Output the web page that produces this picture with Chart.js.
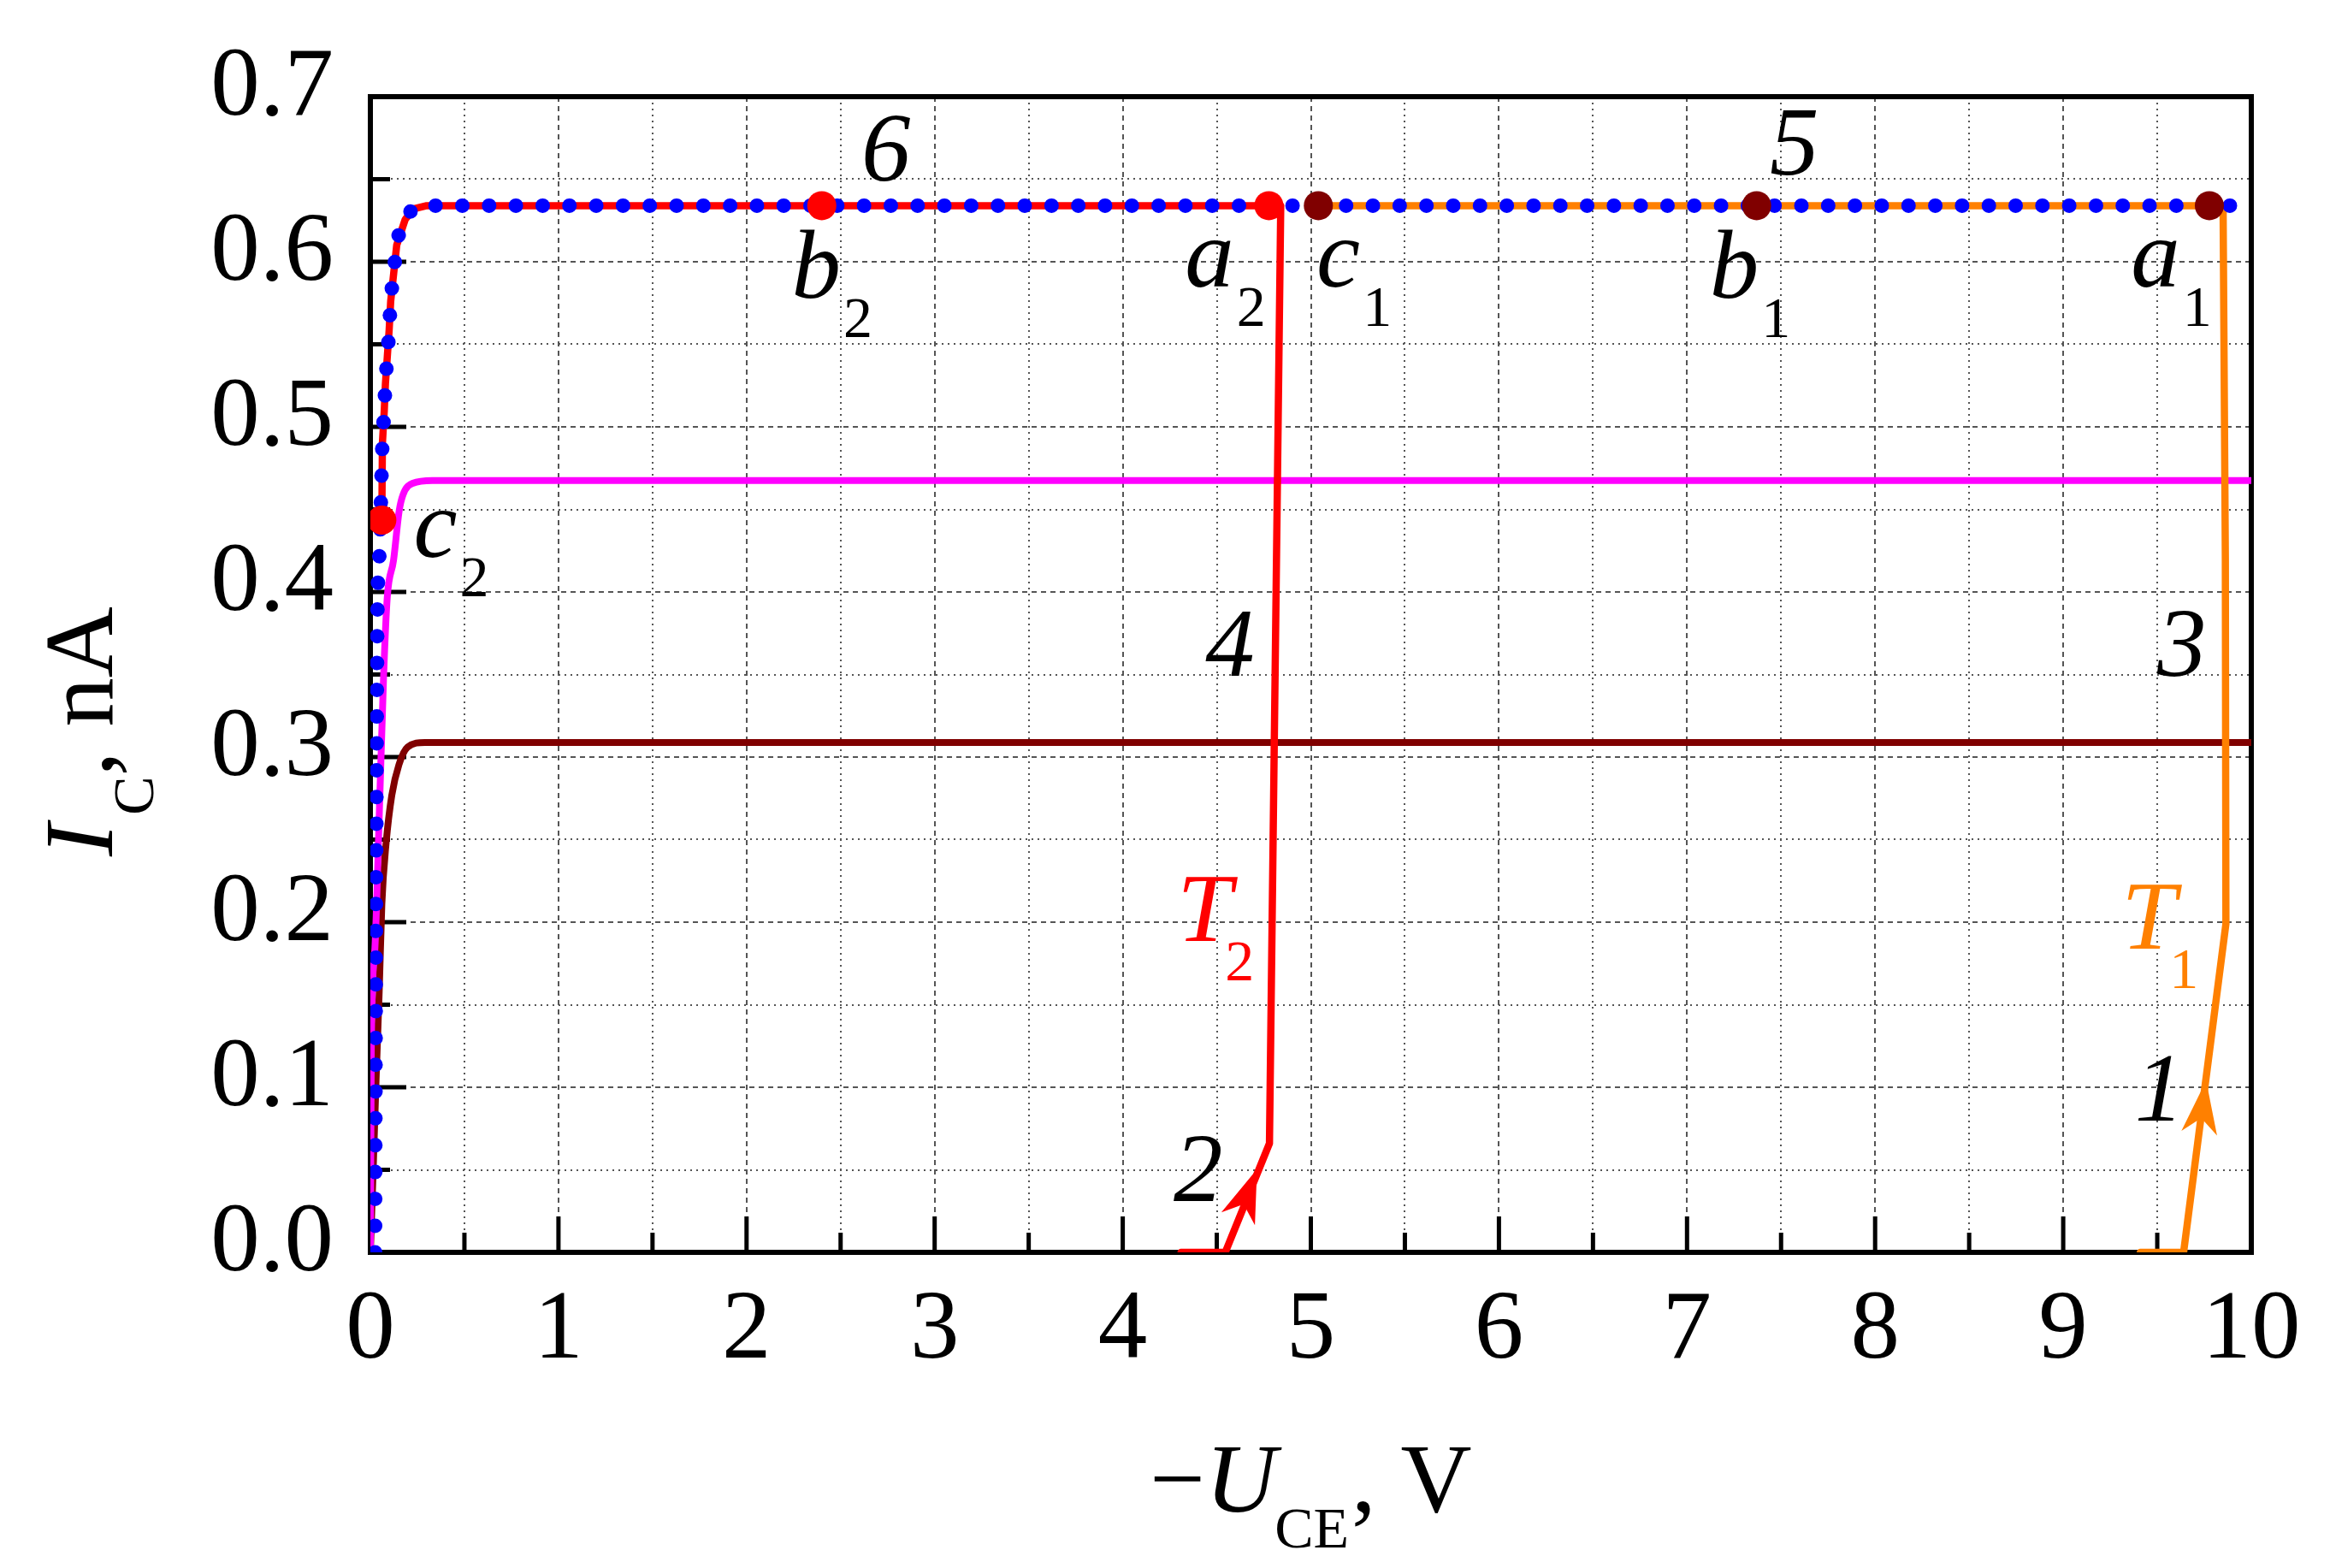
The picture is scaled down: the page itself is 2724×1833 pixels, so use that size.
<!DOCTYPE html>
<html lang="en">
<head>
<meta charset="UTF-8">
<title>Collector current vs collector-emitter voltage</title>
<script src="https://cdn.jsdelivr.net/npm/chart.js"></script>
<style>
  html, body { margin: 0; padding: 0; background: #fff; }
  canvas { display: block; }
</style>
</head>
<body>
<canvas id="chart" width="2724" height="1833"></canvas>
<script>
// ---- data (V on x, nA on y) ----
// curve 6, blue dotted
const blueV = [0.025, 0.03, 0.038, 0.05, 0.057, 0.064, 0.074, 0.08, 0.09, 0.10, 0.108, 0.124, 0.14, 0.185, 0.23, 0.30, 10];
const blueI = [0.0, 0.20, 0.39, 0.426, 0.46, 0.49, 0.51, 0.526, 0.5425, 0.559, 0.576, 0.593, 0.61, 0.6256, 0.632, 0.634, 0.634];
// trajectory T2 (red)
const t2V = [4.31, 4.545, 4.78, 4.84, 0.30, 0.23, 0.185, 0.14, 0.124, 0.108, 0.10, 0.09, 0.08, 0.074, 0.064, 0.061];
const t2I = [0.0, 0.0, 0.066, 0.634, 0.634, 0.632, 0.6256, 0.61, 0.593, 0.576, 0.559, 0.5425, 0.526, 0.51, 0.49, 0.4435];
// trajectory T1 (orange)
const t1V = [9.41, 9.64, 9.865, 9.862, 9.85, 5.04];
const t1I = [0.0, 0.0, 0.199, 0.42, 0.634, 0.634];
// curve 4 (magenta)
const magV = [0, 0.005, 0.024, 0.047, 0.07, 0.09, 0.123, 0.153, 0.174, 0.225, 0.33, 10];
const magI = [0, 0.126, 0.184, 0.264, 0.348, 0.397, 0.419, 0.449, 0.459, 0.4658, 0.4675, 0.4675];
// curve 3 (dark red)
const brownV = [0, 0.0155, 0.0305, 0.047, 0.061, 0.0836, 0.114, 0.152, 0.198, 0.289, 10];
const brownI = [0, 0.052, 0.105, 0.158, 0.2108, 0.2478, 0.2769, 0.2954, 0.306, 0.3088, 0.3088];
// points a2, b2, c2 and a1, b1, c1
const redMarkV = [4.777, 2.40, 0.061];
const redMarkI = [0.634, 0.634, 0.4435];
const darkMarkV = [9.777, 7.37, 5.04];
const darkMarkI = [0.634, 0.634, 0.634];
// arrow tips on T2 and T1
const arrowV = [4.714, 9.76];
const arrowI = [0.0504, 0.104];

// ticks
const xTickValues = [0, 0.5, 1, 1.5, 2, 2.5, 3, 3.5, 4, 4.5, 5, 5.5, 6, 6.5, 7, 7.5, 8, 8.5, 9, 9.5, 10];
const xTickLabels = ['0', '1', '2', '3', '4', '5', '6', '7', '8', '9', '10'];
const yTickValues = [0, 0.05, 0.1, 0.15, 0.2, 0.25, 0.3, 0.35, 0.4, 0.45, 0.5, 0.55, 0.6, 0.65, 0.7];
const yTickLabels = ['0.0', '0.1', '0.2', '0.3', '0.4', '0.5', '0.6', '0.7'];

const SERIF = '"Liberation Serif", "Times New Roman", serif';
const F_MAIN = '115px ' + SERIF;
const F_ITAL = 'italic 115px ' + SERIF;
const F_SUB = '68px ' + SERIF;

const pts = (vs, is) => vs.map((v, k) => ({ x: v, y: is[k] }));

// text labels placed in data coordinates (baseline-left of main glyph)
const notes = [
  { v: 2.61, i: 0.649, text: '6' },
  { v: 7.44, i: 0.653, text: '5' },
  { v: 4.44, i: 0.349, text: '4' },
  { v: 9.50, i: 0.349, text: '3' },
  { v: 4.27, i: 0.031, text: '2' },
  { v: 9.38, i: 0.080, text: '1' },
  { v: 2.24, i: 0.578, text: 'b', sub: '2' },
  { v: 4.33, i: 0.585, text: 'a', sub: '2' },
  { v: 5.03, i: 0.585, text: 'c', sub: '1' },
  { v: 7.12, i: 0.578, text: 'b', sub: '1' },
  { v: 9.36, i: 0.585, text: 'a', sub: '1' },
  { v: 0.23, i: 0.421, text: 'c', sub: '2' },
  { v: 4.29, i: 0.1886, text: 'T', sub: '2', color: '#ff0000', subDx: -8 },
  { v: 9.31, i: 0.184, text: 'T', sub: '1', color: '#ff8000', subDx: -8 }
];

function drawPieces(ctx, pieces, x, y, color) {
  let cx = x;
  ctx.fillStyle = color || '#000';
  ctx.textAlign = 'left';
  ctx.textBaseline = 'alphabetic';
  pieces.forEach(p => {
    ctx.font = p.font;
    cx += p.dx || 0;
    ctx.fillText(p.text, cx, y + (p.dy || 0));
    cx += ctx.measureText(p.text).width;
  });
}

function piecesWidth(ctx, pieces) {
  let w = 0;
  pieces.forEach(p => { ctx.font = p.font; w += (p.dx || 0) + ctx.measureText(p.text).width; });
  return w;
}

function drawArrow(ctx, tx, ty, fx, fy, color) {
  const ang = Math.atan2(ty - fy, tx - fx);
  ctx.save();
  ctx.translate(tx, ty);
  ctx.rotate(ang);
  ctx.beginPath();
  ctx.moveTo(0, 0);
  ctx.lineTo(-62, -21);
  ctx.lineTo(-44, 0);
  ctx.lineTo(-62, 21);
  ctx.closePath();
  ctx.fillStyle = color;
  ctx.fill();
  ctx.restore();
}

const extras = {
  id: 'extras',
  beforeDatasetsDraw(chart) {
    const ctx = chart.ctx;
    const xs = chart.scales.x, ys = chart.scales.y;
    const a = chart.chartArea;
    // frame
    ctx.save();
    ctx.strokeStyle = '#000';
    ctx.lineWidth = 6;
    ctx.strokeRect(a.left, a.top, a.right - a.left, a.bottom - a.top);

    // inward tick marks
    ctx.lineWidth = 5;
    ctx.beginPath();
    xTickValues.forEach((v, k) => {
      const px = xs.getPixelForValue(v);
      const len = k % 2 === 0 ? 42 : 23;
      ctx.moveTo(px, a.bottom);
      ctx.lineTo(px, a.bottom - len);
    });
    yTickValues.forEach((v, k) => {
      const py = ys.getPixelForValue(v);
      const len = k % 2 === 0 ? 42 : 23;
      ctx.moveTo(a.left, py);
      ctx.lineTo(a.left + len, py);
    });
    ctx.stroke();
    ctx.restore();
  },
  afterDatasetsDraw(chart) {
    const ctx = chart.ctx;
    const xs = chart.scales.x, ys = chart.scales.y;
    const a = chart.chartArea;

    // arrows on the rising parts of T2 and T1
    const arrowSets = [[t2V, t2I, '#ff0000'], [t1V, t1I, '#ff8000']];
    arrowSets.forEach((s, k) => {
      const fx = xs.getPixelForValue(s[0][1]), fy = ys.getPixelForValue(s[1][1]);
      const tx = xs.getPixelForValue(arrowV[k]), ty = ys.getPixelForValue(arrowI[k]);
      drawArrow(ctx, tx, ty, fx, fy, s[2]);
    });

    // point labels
    ctx.save();
    notes.forEach(n => {
      const pieces = [{ text: n.text, font: F_ITAL }];
      if (n.sub) pieces.push({ text: n.sub, font: F_SUB, dx: n.subDx !== undefined ? n.subDx : 3, dy: 46 });
      drawPieces(ctx, pieces, xs.getPixelForValue(n.v), ys.getPixelForValue(n.i), n.color);
    });

    // axis titles
    const xTitle = [
      { text: '\u2212', font: F_MAIN },
      { text: 'U', font: F_ITAL },
      { text: 'CE', font: F_SUB, dx: -2, dy: 42 },
      { text: ', V', font: F_MAIN, dx: 3 }
    ];
    const xw = piecesWidth(ctx, xTitle);
    drawPieces(ctx, xTitle, (a.left + a.right) / 2 - xw / 2, 1767);

    const yTitle = [
      { text: 'I', font: F_ITAL },
      { text: 'C', font: F_SUB, dx: 10, dy: 48 },
      { text: ', nA', font: F_MAIN }
    ];
    ctx.translate(131, 1001);
    ctx.rotate(-Math.PI / 2);
    drawPieces(ctx, yTitle, 0, 0);
    ctx.restore();
  }
};

const lineBase = { pointRadius: 0, fill: false, borderJoinStyle: 'round', borderCapStyle: 'round' };

new Chart(document.getElementById('chart'), {
  type: 'line',
  data: {
    datasets: [
      { ...lineBase, data: pts(darkMarkV, darkMarkI), showLine: false, pointRadius: 17, pointBackgroundColor: '#800000', pointBorderWidth: 0 },
      { ...lineBase, data: pts(redMarkV, redMarkI), showLine: false, pointRadius: 17, pointBackgroundColor: '#ff0000', pointBorderWidth: 0 },
      { ...lineBase, data: pts(blueV, blueI), borderColor: '#0000ff', borderWidth: 17, borderDash: [0.01, 31.3], cubicInterpolationMode: 'monotone', clip: 0 },
      { ...lineBase, data: pts(t2V, t2I), borderColor: '#ff0000', borderWidth: 8.5, tension: 0 },
      { ...lineBase, data: pts(t1V, t1I), borderColor: '#ff8000', borderWidth: 8.5, tension: 0 },
      { ...lineBase, data: pts(magV, magI), borderColor: '#ff00ff', borderWidth: 8, cubicInterpolationMode: 'monotone' },
      { ...lineBase, data: pts(brownV, brownI), borderColor: '#800000', borderWidth: 8, cubicInterpolationMode: 'monotone' }
    ]
  },
  options: {
    responsive: false,
    devicePixelRatio: 1,
    animation: false,
    layout: { padding: { left: 0, top: 113, right: 92, bottom: 0 } },
    plugins: { legend: { display: false }, tooltip: { enabled: false } },
    scales: {
      x: {
        type: 'linear',
        min: 0,
        max: 10,
        afterBuildTicks: s => { s.ticks = xTickValues.map(v => ({ value: v })); },
        afterFit: s => { s.height = 369; },
        ticks: {
          autoSkip: false,
          maxRotation: 0,
          padding: 24,
          color: '#000',
          font: { family: SERIF, size: 115 },
          callback: (value, index) => index % 2 === 0 ? xTickLabels[index / 2] : ''
        },
        grid: {
          color: '#555',
          lineWidth: 2,
          drawTicks: false
        },
        border: { display: true, color: '#000', width: 6, dash: c => (c.index % 2 === 0 ? [6, 5] : [2, 5]) }
      },
      y: {
        type: 'linear',
        min: 0,
        max: 0.7,
        afterBuildTicks: s => { s.ticks = yTickValues.map(v => ({ value: v })); },
        afterFit: s => { s.width = 433; },
        ticks: {
          autoSkip: false,
          padding: 43,
          labelOffset: -9,
          color: '#000',
          font: { family: SERIF, size: 115 },
          callback: (value, index) => index % 2 === 0 ? yTickLabels[index / 2] : ''
        },
        grid: {
          color: '#555',
          lineWidth: 2,
          drawTicks: false
        },
        border: { display: true, color: '#000', width: 6, dash: c => (c.index % 2 === 0 ? [6, 5] : [2, 5]) }
      }
    }
  },
  plugins: [extras]
});
</script>
</body>
</html>
